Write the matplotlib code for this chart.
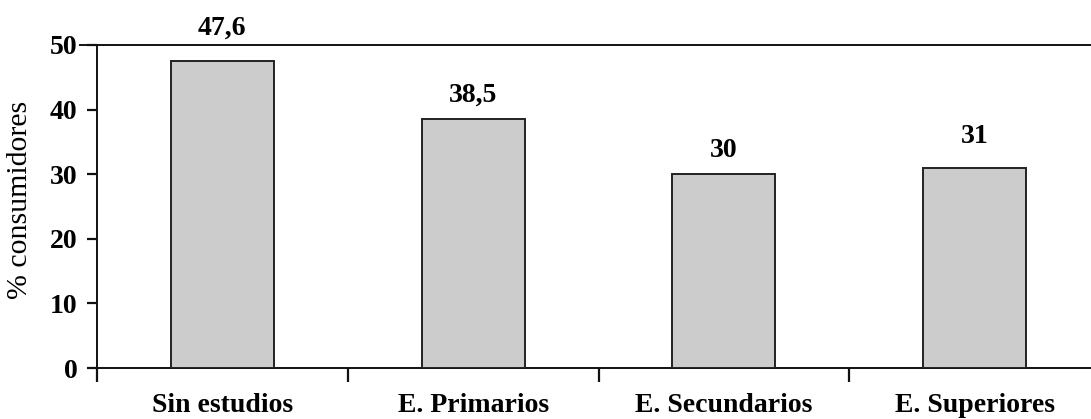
import matplotlib
matplotlib.use("Agg")
import matplotlib.pyplot as plt

categories = ["Sin estudios", "E. Primarios", "E. Secundarios", "E. Superiores"]
values = [47.6, 38.5, 30, 31]
yticks = [0, 10, 20, 30, 40, 50]
ylabel = "% consumidores"
label_offsets = [18.5, 12.5, 12.5, 18]  # points above bar top (baseline)

plt.rcParams['font.family'] = ['Liberation Serif', 'DejaVu Serif']

fig = plt.figure(figsize=(10.91, 4.19), dpi=100)
ax = fig.add_axes([97/1091, 51/419, 1003/1091, 323/419])

x = list(range(len(categories)))
ax.bar(x, values, width=0.41, color="#cccccc", edgecolor="#222222", linewidth=1.4, zorder=3)

def fmt(v):
    return (str(int(v)) if float(v).is_integer() else str(v)).replace('.', ',')

for xi, v, off in zip(x, values, label_offsets):
    ax.annotate(fmt(v), (xi, v), xytext=(0, off), textcoords='offset points',
                ha='center', va='baseline', fontsize=20, fontweight='bold',
                annotation_clip=False)

ax.set_xlim(-0.5, len(categories) - 0.5)
ax.set_ylim(0, 50)

for s in ['top', 'right']:
    ax.spines[s].set_visible(False)
for s in ['left', 'bottom']:
    ax.spines[s].set_linewidth(1.4)
    ax.spines[s].set_color('#111111')

# top line at 50 extending slightly left
ax.plot([-0.017, 1.0], [1, 1], transform=ax.transAxes, color='#111111',
        linewidth=1.4, clip_on=False)

ax.set_yticks(yticks)
ax.set_yticklabels([str(t) for t in yticks], fontsize=20, fontweight='bold')
ax.tick_params(axis='y', direction='out', length=7, width=1.6, pad=7, color='#111111')

# boundaries as major ticks, category labels as minor ticks
ax.set_xticks([i - 0.5 for i in range(len(categories))])
ax.set_xticklabels([])
ax.set_xticks(x, minor=True)
ax.set_xticklabels(categories, minor=True, fontsize=20, fontweight='bold')
ax.tick_params(axis='x', which='major', direction='out', length=10, width=1.6, color='#111111')
ax.tick_params(axis='x', which='minor', length=0, pad=18)

ax.set_ylabel(ylabel, fontsize=21.5)
ax.yaxis.set_label_coords(-0.064, 0.52)

fig.savefig("out.png", dpi=100)
